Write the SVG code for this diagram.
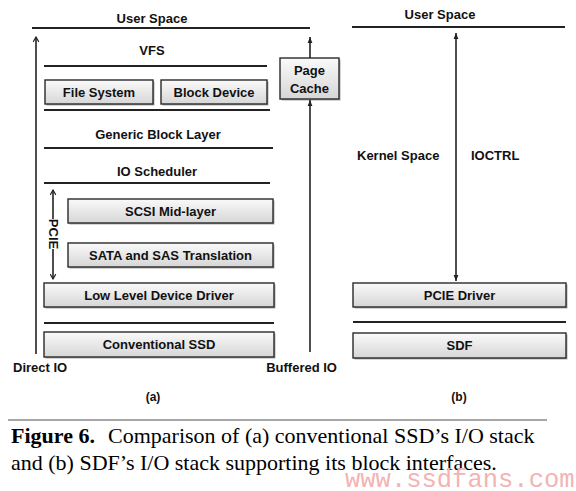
<svg xmlns="http://www.w3.org/2000/svg" width="576" height="491" viewBox="0 0 576 491">
<style>
.t{font-family:"Liberation Sans",Arial,sans-serif;font-weight:bold;font-size:13px;fill:#111}
.m{text-anchor:middle}
.ln{stroke:#222;stroke-width:1.8;fill:none}
.ar{stroke:#222;stroke-width:1.6;fill:none}
.bx{fill:url(#g);stroke:#2a2a2a;stroke-width:1.4}
.sh{fill:#777;opacity:0.6}
.cap{font-family:"Liberation Serif","Times New Roman",serif;font-size:22px;fill:#000}
</style>
<defs>
<linearGradient id="g" x1="0" y1="0" x2="0" y2="1">
<stop offset="0" stop-color="#fafafa"/>
<stop offset="1" stop-color="#d6d6d6"/>
</linearGradient>
<marker id="op" viewBox="0 0 10 10" refX="9" refY="5" markerWidth="7" markerHeight="7" orient="auto-start-reverse" markerUnits="userSpaceOnUse">
<path d="M2,1 L9,5 L2,9" fill="none" stroke="#222" stroke-width="1.6"/>
</marker>
<marker id="fl" viewBox="0 0 10 10" refX="10" refY="5" markerWidth="6" markerHeight="6" orient="auto-start-reverse" markerUnits="userSpaceOnUse">
<path d="M0,1 L10,5 L0,9 Z" fill="#222"/>
</marker>
</defs>

<g id="layers">
<line class="ln" x1="32" y1="28" x2="310" y2="28"/>
<line class="ln" x1="352" y1="27" x2="565" y2="27"/>
<line class="ln" x1="44" y1="66" x2="267" y2="66"/>
<line class="ln" x1="44" y1="110" x2="270" y2="110"/>
<line class="ln" x1="44" y1="148" x2="273" y2="148"/>
<line class="ln" x1="44" y1="183" x2="270" y2="183"/>
<line class="ln" x1="44" y1="323" x2="274" y2="323"/>
<line class="ln" x1="353" y1="322" x2="566" y2="322"/>
</g>

<g id="labels">
<text class="t m" x="152" y="23">User Space</text>
<text class="t m" x="440" y="19">User Space</text>
<text class="t m" x="152" y="55">VFS</text>
<text class="t m" x="158" y="139">Generic Block Layer</text>
<text class="t m" x="157" y="176">IO Scheduler</text>
<text class="t" x="13" y="372">Direct IO</text>
<text class="t" x="337" y="372" text-anchor="end">Buffered IO</text>
<text class="t" x="357" y="160">Kernel Space</text>
<text class="t" x="471" y="160">IOCTRL</text>
<text class="t m" x="153" y="401" style="font-size:12px">(a)</text>
<text class="t m" x="459" y="401" style="font-size:12px">(b)</text>
<text class="t m" x="0" y="0" transform="translate(49,234) rotate(90)">PCIE</text>
</g>

<g id="file-system">
<rect class="sh" x="46.5" y="81.5" width="108" height="24"/>
<rect class="bx" x="45" y="80" width="108" height="24"/>
<text class="t m" x="99" y="96.5">File System</text>
</g>
<g id="block-device">
<rect class="sh" x="162.5" y="81.5" width="106" height="24"/>
<rect class="bx" x="161" y="80" width="106" height="24"/>
<text class="t m" x="214" y="96.5">Block Device</text>
</g>
<g id="page-cache">
<rect class="sh" x="281.5" y="59.5" width="59" height="41"/>
<rect class="bx" x="280" y="58" width="59" height="41"/>
<text class="t m" x="309.5" y="75">Page</text>
<text class="t m" x="309.5" y="93">Cache</text>
</g>
<g id="scsi">
<rect class="sh" x="69.5" y="200.5" width="205" height="24"/>
<rect class="bx" x="68" y="199" width="205" height="24"/>
<text class="t m" x="170.5" y="215.5">SCSI Mid-layer</text>
</g>
<g id="sata">
<rect class="sh" x="69.5" y="244.5" width="205" height="24"/>
<rect class="bx" x="68" y="243" width="205" height="24"/>
<text class="t m" x="170.5" y="259.5">SATA and SAS Translation</text>
</g>
<g id="lldd">
<rect class="sh" x="45.5" y="284.5" width="230" height="24"/>
<rect class="bx" x="44" y="283" width="230" height="24"/>
<text class="t m" x="159" y="299.5">Low Level Device Driver</text>
</g>
<g id="conv-ssd">
<rect class="sh" x="45.5" y="333.5" width="230" height="25"/>
<rect class="bx" x="44" y="332" width="230" height="25"/>
<text class="t m" x="159" y="349">Conventional SSD</text>
</g>
<g id="pcie-driver">
<rect class="sh" x="354.5" y="284.5" width="213" height="24"/>
<rect class="bx" x="353" y="283" width="213" height="24"/>
<text class="t m" x="459.5" y="299.5">PCIE Driver</text>
</g>
<g id="sdf">
<rect class="sh" x="354.5" y="334.5" width="213" height="25"/>
<rect class="bx" x="353" y="333" width="213" height="25"/>
<text class="t m" x="459.5" y="350">SDF</text>
</g>

<g id="connectors">
<line class="ar" x1="36" y1="354" x2="36" y2="37" marker-end="url(#op)"/>
<line class="ar" x1="53" y1="219" x2="53" y2="190" marker-end="url(#op)"/>
<line class="ar" x1="53" y1="249" x2="53" y2="279" marker-end="url(#op)"/>
<line class="ar" x1="310" y1="58" x2="310" y2="37" marker-end="url(#fl)"/>
<line class="ar" x1="310" y1="352" x2="310" y2="100" marker-end="url(#fl)"/>
<line class="ar" x1="456" y1="33" x2="456" y2="281" marker-start="url(#fl)" marker-end="url(#fl)"/>
</g>

<g id="caption">
<line x1="8" y1="420" x2="547" y2="420" stroke="#888" stroke-width="1.5"/>
<text class="cap" x="11" y="443"><tspan font-weight="bold">Figure 6.</tspan><tspan x="108">Comparison of (a) conventional SSD’s I/O stack</tspan></text>
<text class="cap" x="11" y="470">and (b) SDF’s I/O stack supporting its block interfaces.</text>
<text x="345" y="487" style="font-family:'Liberation Mono','Courier New',monospace;font-size:25.5px;fill:#f2b4b4">www.ssdfans.com</text>
</g>
</svg>
